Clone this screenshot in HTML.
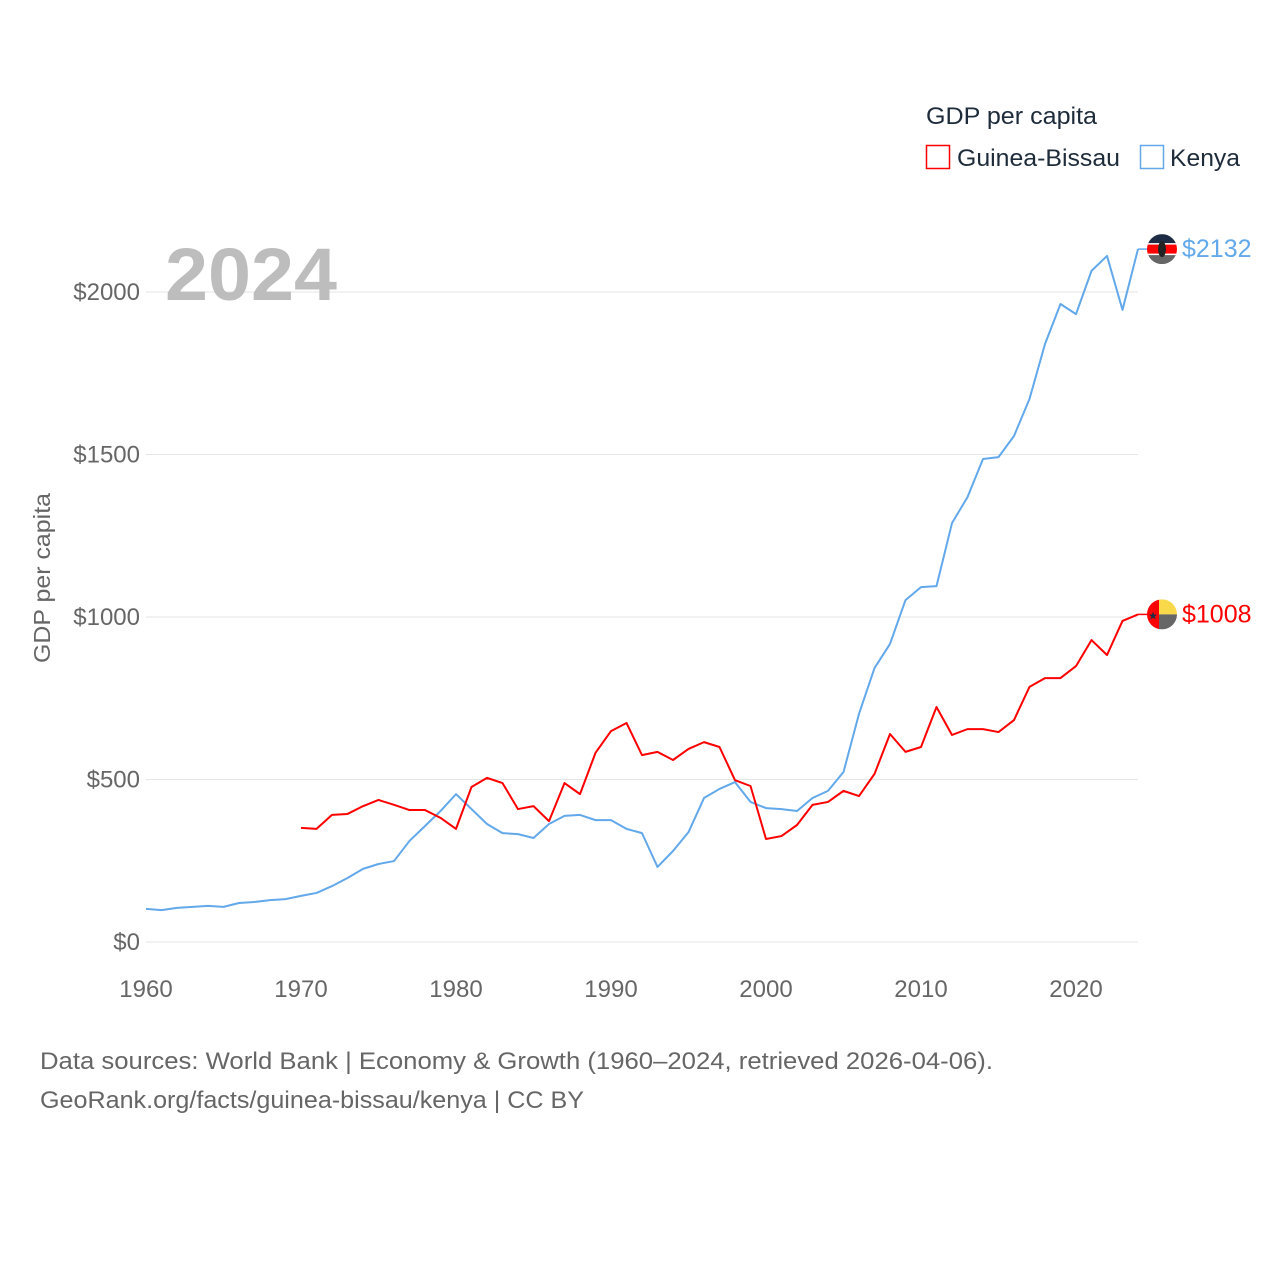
<!DOCTYPE html>
<html><head><meta charset="utf-8"><style>
body{margin:0;background:#fff;width:1280px;height:1280px;overflow:hidden;font-family:"Liberation Sans",sans-serif}
</style></head><body>
<svg id="chart" width="1280" height="1280" xmlns="http://www.w3.org/2000/svg" font-family="Liberation Sans, sans-serif">
<g id="grid"></g>
<g id="yticks"></g>
<g id="xticks"></g>
<text x="165" y="300" font-size="74" font-weight="bold" fill="#bdbdbd" textLength="172" lengthAdjust="spacingAndGlyphs">2024</text>
<text transform="translate(50,578) rotate(-90)" text-anchor="middle" font-size="23" fill="#666" textLength="170" lengthAdjust="spacingAndGlyphs">GDP per capita</text>
<g id="series"></g>
<g>
<text x="926" y="124" font-size="24" fill="#1d2b3a" textLength="171" lengthAdjust="spacingAndGlyphs">GDP per capita</text>
<rect x="926.5" y="145.5" width="23" height="23" fill="none" stroke="#f00" stroke-width="1.5"/>
<text x="957" y="166" font-size="24" fill="#1d2b3a" textLength="163" lengthAdjust="spacingAndGlyphs">Guinea-Bissau</text>
<rect x="1140.5" y="145.5" width="23" height="23" fill="none" stroke="#62a8ea" stroke-width="1.5"/>
<text x="1170" y="166" font-size="24" fill="#1d2b3a" textLength="70" lengthAdjust="spacingAndGlyphs">Kenya</text>
</g>
<text x="40" y="1069" font-size="24" fill="#666" textLength="953" lengthAdjust="spacingAndGlyphs">Data sources: World Bank | Economy &amp; Growth (1960–2024, retrieved 2026-04-06).</text>
<text x="40" y="1108" font-size="24" fill="#666" textLength="544" lengthAdjust="spacingAndGlyphs">GeoRank.org/facts/guinea-bissau/kenya | CC BY</text>
</svg>
<script>
const kenyaYears=[];for(let y=1960;y<=2024;y++)kenyaYears.push(y);
const kenyaValues=[102,98,105,108,111,108,120,123,129,132,142,151,172,197,225,240,249,311,357,403,455,409,363,335,332,320,363,388,391,375,375,348,335,231,280,338,443,471,492,431,412,409,403,443,465,523,702,843,917,1052,1092,1095,1289,1369,1486,1492,1557,1671,1840,1963,1932,2065,2111,1945,2132];
const gbYears=[];for(let y=1970;y<=2024;y++)gbYears.push(y);
const gbValues=[351,348,391,394,418,437,422,406,406,382,348,477,505,489,409,418,372,489,455,582,649,674,575,585,560,594,615,600,498,480,317,326,360,422,431,465,449,517,640,585,600,723,637,655,655,646,683,785,812,812,849,929,883,988,1008];
const yTicks=[0,500,1000,1500,2000];
const yTickLabels=["$0","$500","$1000","$1500","$2000"];
const xTicks=[1960,1970,1980,1990,2000,2010,2020];
const NS="http://www.w3.org/2000/svg";
const X=y=>146+(y-1960)*15.5;
const Y=v=>942-v*0.325;
function mk(t,a,p){const e=document.createElementNS(NS,t);for(const k in a)e.setAttribute(k,a[k]);p.appendChild(e);return e;}
const grid=document.getElementById('grid'),yt=document.getElementById('yticks'),xt=document.getElementById('xticks'),ser=document.getElementById('series');
yTicks.forEach((v,i)=>{
 const l=mk('line',{x1:146,x2:1138,y1:Y(v),y2:Y(v),stroke:'#e6e6e6','stroke-width':1},grid);
 
 
 const t=mk('text',{x:140,y:Y(v)+8,'text-anchor':'end','font-size':24,fill:'#666'},yt);
 t.textContent=yTickLabels[i];
 
 
});
xTicks.forEach(v=>{
 const t=mk('text',{x:X(v),y:997,'text-anchor':'middle','font-size':24,fill:'#666'},xt);
 t.textContent=v;
 
 
});
function series(yrs,vals,color,name){
 const d=yrs.map((y,i)=>(i?'L':'M')+X(y)+','+Y(vals[i])).join(' ');
 const p=mk('path',{d:d,fill:'none',stroke:color,'stroke-width':2,'stroke-linejoin':'round'},ser);
 
 
 const last=vals[vals.length-1],ly=Y(last),lx=X(yrs[yrs.length-1]);
 const c=mk('line',{x1:lx,x2:1148,y1:ly,y2:ly,stroke:color,'stroke-width':1.5},ser);
 
 
 const t=mk('text',{x:1182,y:ly+8,'font-size':25,fill:color},ser);
 t.textContent='$'+last;
 
 
 return ly;
}
const ky=series(kenyaYears,kenyaValues,'#62a8ea','kenya');
const gy=series(gbYears,gbValues,'#f00','guinea-bissau');
const kf=mk('g',{},ser);


mk('defs',{},kf).innerHTML='<clipPath id="kc"><circle cx="1162" cy="'+ky+'" r="15"/></clipPath><clipPath id="gc"><circle cx="1162" cy="'+gy+'" r="15"/></clipPath>';
const kg=mk('g',{'clip-path':'url(#kc)'},kf);
mk('rect',{x:1147,y:ky-15,width:30,height:10,fill:'#1d2b45'},kg);
mk('rect',{x:1147,y:ky-5,width:30,height:10,fill:'#f00'},kg);
mk('rect',{x:1147,y:ky+5,width:30,height:10,fill:'#666'},kg);
mk('rect',{x:1147,y:ky-6,width:30,height:1.5,fill:'#fff'},kg);
mk('rect',{x:1147,y:ky+4.5,width:30,height:1.5,fill:'#fff'},kg);
mk('ellipse',{cx:1162,cy:ky,rx:4,ry:8,fill:'#222'},kg);
const gf=mk('g',{'clip-path':'url(#gc)'},ser);


mk('rect',{x:1147,y:gy-15,width:12,height:30,fill:'#f00'},gf);
mk('rect',{x:1159,y:gy-15,width:18,height:15,fill:'#f9d84a'},gf);
mk('rect',{x:1159,y:gy,width:18,height:15,fill:'#666'},gf);
const st=mk('text',{x:1153,y:gy+5,'font-size':11,fill:'#1d2b45','text-anchor':'middle'},gf);st.textContent='★';
</script>
</body></html>
